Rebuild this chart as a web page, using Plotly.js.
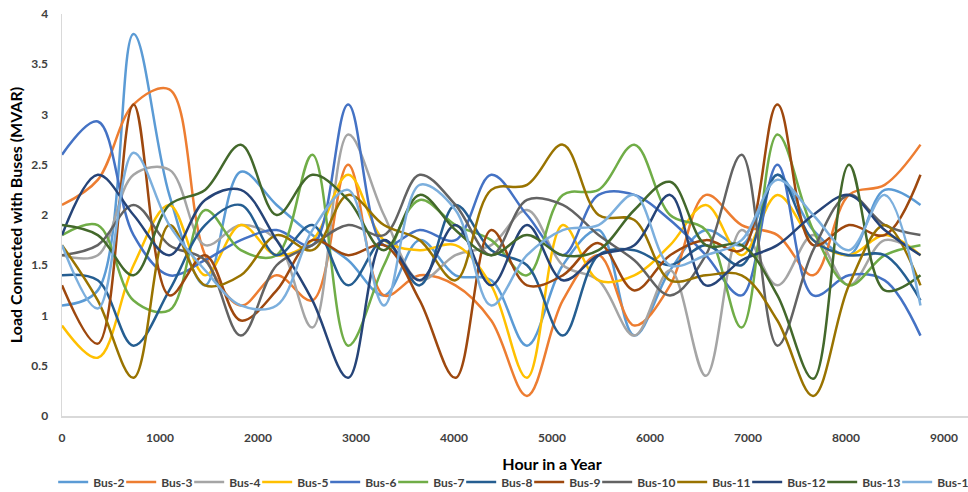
<!DOCTYPE html>
<html>
<head>
<meta charset="utf-8">
<script src="https://cdn.plot.ly/plotly-3.0.1.min.js"></script>
<style>
  html, body { margin: 0; padding: 0; overflow: hidden; background: #fff; }
  #chart { width: 1062px; height: 492px; }
</style>
</head>
<body>
<div id="chart"></div>
<script>
// Hours (x values)
const hours = [0, 365, 730, 1095, 1460, 1825, 2190, 2555, 2920, 3285, 3650, 4015, 4380,
               4745, 5110, 5475, 5840, 6205, 6570, 6935, 7300, 7665, 8030, 8395, 8760];

// X tick labels shown
const xTickVals = [0, 1000, 2000, 3000, 4000, 5000, 6000, 7000, 8000, 9000];
const xTickText = ["0", "1000", "2000", "3000", "4000", "5000", "6000", "7000", "8000", "9000"];

// Series names
const seriesNames = ["Bus-2", "Bus-3", "Bus-4", "Bus-5", "Bus-6", "Bus-7", "Bus-8",
                     "Bus-9", "Bus-10", "Bus-11", "Bus-12", "Bus-13", "Bus-14"];

// Load values (MVAR)
const bus2  = [1.1, 1.25, 3.8, 2.2, 1.3, 2.43, 2.1, 1.8, 1.55, 1.2, 1.75, 1.4, 1.35, 0.7, 1.5, 1.85, 0.8, 1.45, 1.85, 1.7, 2.4, 1.85, 1.6, 2.25, 2.1];
const bus3  = [2.1, 2.35, 3.1, 3.25, 1.6, 1.1, 1.4, 1.15, 2.5, 1.2, 1.4, 1.3, 0.95, 0.2, 1.15, 1.6, 0.9, 1.3, 2.2, 1.9, 1.8, 1.4, 2.2, 2.3, 2.7];
const bus4  = [1.6, 1.6, 2.4, 2.45, 1.7, 1.9, 1.75, 0.88, 2.8, 2.0, 1.35, 1.6, 1.7, 2.05, 1.5, 1.35, 0.8, 1.45, 0.4, 1.85, 1.3, 1.8, 1.3, 1.75, 1.6];
const bus5  = [0.9, 0.58, 1.5, 2.1, 1.4, 1.9, 1.6, 1.75, 2.4, 1.75, 1.65, 1.7, 1.3, 0.38, 1.9, 1.35, 1.4, 1.7, 2.1, 1.6, 2.2, 1.75, 1.6, 1.8, 1.6];
const bus6  = [2.6, 2.93, 1.8, 1.4, 1.55, 1.75, 1.85, 1.7, 3.1, 1.7, 1.85, 1.75, 2.4, 2.0, 1.6, 2.2, 2.2, 1.95, 1.6, 1.2, 2.5, 1.2, 1.4, 1.35, 0.8];
const bus7  = [1.8, 1.9, 1.15, 1.05, 2.05, 1.65, 1.6, 2.6, 0.7, 1.5, 2.15, 1.9, 1.75, 1.4, 2.2, 2.25, 2.7, 2.0, 1.85, 0.88, 2.8, 1.85, 1.3, 1.6, 1.7];
const bus8  = [1.4, 1.35, 0.7, 1.25, 1.9, 2.1, 1.6, 1.9, 1.3, 1.75, 1.3, 2.1, 1.65, 1.5, 0.8, 1.6, 1.65, 1.5, 1.7, 1.5, 2.4, 1.75, 1.6, 1.6, 1.15];
const bus9  = [1.3, 0.72, 3.1, 1.2, 1.6, 0.95, 1.25, 1.75, 1.6, 1.7, 1.15, 0.38, 1.85, 1.3, 1.4, 1.72, 1.25, 1.6, 1.75, 1.65, 3.1, 1.7, 1.9, 1.8, 2.4];
const bus10 = [1.6, 1.7, 2.1, 1.7, 1.55, 0.8, 1.5, 1.7, 1.9, 1.8, 2.4, 2.1, 1.6, 2.15, 2.1, 1.8, 1.55, 1.2, 1.6, 2.6, 0.7, 1.65, 2.2, 1.9, 1.8];
const bus11 = [1.7, 1.15, 0.38, 1.9, 1.3, 1.4, 1.8, 1.65, 2.2, 1.9, 1.75, 1.35, 2.25, 2.3, 2.7, 2.0, 1.95, 1.35, 1.4, 1.4, 0.95, 0.2, 1.3, 1.9, 1.3];
const bus12 = [1.8, 2.4, 2.0, 1.6, 2.15, 2.25, 1.75, 1.15, 0.38, 1.75, 1.35, 1.9, 1.3, 1.9, 1.35, 1.6, 1.7, 2.2, 1.3, 1.55, 1.7, 2.0, 2.2, 1.85, 1.6];
const bus13 = [1.9, 1.8, 1.4, 2.1, 2.25, 2.7, 2.0, 2.4, 2.15, 1.65, 2.2, 1.85, 1.6, 1.8, 1.6, 1.65, 2.05, 2.33, 1.7, 1.7, 1.2, 0.37, 2.5, 1.25, 1.4];
const bus14 = [1.7, 1.07, 2.62, 1.9, 1.45, 1.1, 1.1, 1.85, 2.25, 1.1, 2.3, 2.05, 1.1, 1.6, 1.85, 1.9, 2.2, 1.5, 1.6, 1.75, 2.35, 2.0, 1.65, 2.2, 1.1];

const seriesValues = [bus2, bus3, bus4, bus5, bus6, bus7, bus8, bus9, bus10, bus11, bus12, bus13, bus14];

const colors = ["#5B9BD5", "#ED7D31", "#A5A5A5", "#FFC000", "#4472C4", "#70AD47", "#255E91",
                "#9E480E", "#636363", "#997300", "#264478", "#43682B", "#7CAFDD"];

const FONT = "Lato, 'Open Sans', 'Liberation Sans', sans-serif";

const traces = seriesNames.map((name, i) => ({
  type: "scatter",
  mode: "lines",
  name: name,
  x: hours,
  y: seriesValues[i],
  line: { color: colors[i], width: 2.5, shape: "spline", smoothing: 1 },
  legendwidth: name.length > 5 ? 30 : 23,
  hoverinfo: "skip"
}));

const layout = {
  width: 1062,
  height: 492,
  margin: { l: 62, r: 20, t: 14, b: 76, autoexpand: false },
  paper_bgcolor: "#ffffff",
  plot_bgcolor: "#ffffff",
  font: { family: FONT, color: "#404040" },
  showlegend: true,
  legend: {
    orientation: "h",
    x: -0.009,
    xanchor: "left",
    y: -0.164,
    yanchor: "middle",
    font: { family: FONT, size: 12, color: "#404040", weight: "bold" },
    itemwidth: 30,
    tracegroupgap: 0,
    bgcolor: "rgba(0,0,0,0)"
  },
  xaxis: {
    range: [0, 10000],
    tickmode: "array",
    tickvals: xTickVals,
    ticktext: xTickText,
    showgrid: false,
    zeroline: false,
    showline: true,
    linecolor: "#D9D9D9",
    linewidth: 1.5,
    ticks: "",
    ticklabelstandoff: 10,
    automargin: false,
    tickfont: { family: FONT, size: 12, color: "#404040", weight: "bold" },
    title: { text: "Hour in a Year", font: { family: FONT, size: 16, color: "#000000", weight: "bold" }, standoff: 15 }
  },
  yaxis: {
    range: [0, 4],
    dtick: 0.5,
    tick0: 0,
    showgrid: false,
    zeroline: false,
    showline: true,
    linecolor: "#D9D9D9",
    linewidth: 1.5,
    ticks: "",
    ticklabelstandoff: 10,
    automargin: false,
    tickfont: { family: FONT, size: 12, color: "#404040", weight: "bold" },
    title: { text: "Load Connected with Buses (MVAR)", font: { family: FONT, size: 16, color: "#000000", weight: "bold" }, standoff: 4 }
  }
};

Plotly.newPlot("chart", traces, layout, { staticPlot: true, displayModeBar: false });
</script>
</body>
</html>
